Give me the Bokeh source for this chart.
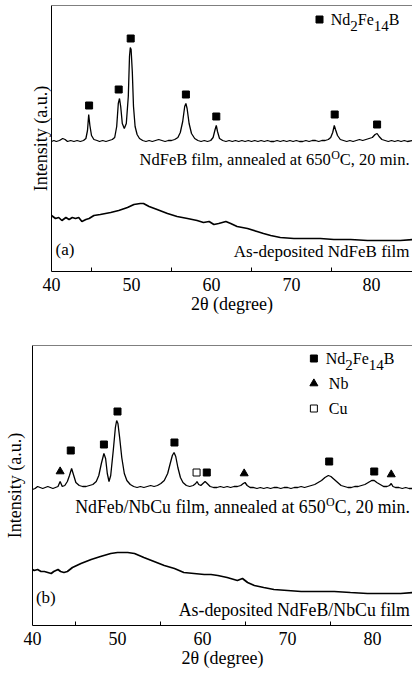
from bokeh.plotting import figure
from bokeh.models import FixedTicker, Label, Span, Range1d
from bokeh.layouts import column
from bokeh.embed import file_html
from bokeh.resources import INLINE

FONT = "Liberation Serif"

# ---------------- data ----------------
x_ticks = [40, 50, 60, 70, 80]
x_minor = [45, 55, 65, 75]
x_label = "2\u03b8 (degree)"
y_label = "Intensity (a.u.)"

# panel (a): annealed NdFeB film (2theta, intensity a.u.)
a_annealed = [
    (40.0, 130), (40.3, 131), (40.6, 130), (41.0, 131), (41.4, 133), (41.7, 132), (42.0, 130),
    (42.4, 131), (42.8, 130), (43.2, 131), (43.6, 130), (44.0, 131), (44.3, 133), (44.5, 141),
    (44.65, 157), (44.8, 146), (45.0, 136), (45.3, 132), (45.7, 131), (46.0, 130), (46.4, 131),
    (46.8, 130), (47.2, 131), (47.6, 132), (47.9, 134), (48.15, 145), (48.35, 168), (48.5, 173),
    (48.65, 165), (48.85, 148), (49.1, 143), (49.35, 148), (49.6, 175), (49.75, 215), (49.85, 224),
    (49.95, 222), (50.1, 200), (50.25, 165), (50.45, 145), (50.7, 137), (51.0, 133), (51.4, 131),
    (51.8, 130), (52.2, 131), (52.6, 130), (53.0, 131), (53.4, 132), (53.8, 131), (54.2, 130),
    (54.6, 131), (55.0, 131), (55.4, 132), (55.8, 134), (56.1, 139), (56.4, 150), (56.65, 165),
    (56.8, 168), (56.95, 163), (57.2, 148), (57.5, 138), (57.9, 133), (58.3, 131), (58.7, 130),
    (59.1, 131), (59.5, 130), (59.9, 131), (60.2, 134), (60.45, 142), (60.6, 146), (60.75, 140),
    (61.0, 133), (61.4, 131), (61.8, 130), (62.2, 131), (62.6, 130), (63.0, 131), (63.4, 130),
    (63.8, 131), (64.2, 130), (64.6, 131), (65.0, 130), (65.4, 131), (65.8, 130), (66.2, 131),
    (66.6, 130), (67.0, 131), (67.4, 130), (67.8, 130), (68.2, 131), (68.6, 130), (69.0, 131),
    (69.4, 130), (69.8, 131), (70.2, 130), (70.6, 131), (71.0, 130), (71.4, 130), (71.8, 131),
    (72.2, 130), (72.6, 131), (73.0, 131), (73.4, 130), (73.8, 131), (74.2, 131), (74.6, 132),
    (74.9, 134), (75.15, 139), (75.35, 146), (75.5, 142), (75.75, 136), (76.1, 132), (76.5, 131),
    (76.9, 130), (77.3, 131), (77.7, 130), (78.1, 131), (78.5, 132), (78.9, 131), (79.3, 132),
    (79.7, 133), (80.1, 134), (80.45, 137), (80.7, 138), (80.95, 135), (81.3, 132), (81.7, 131),
    (82.1, 130), (82.5, 131), (82.9, 130), (83.3, 131), (83.7, 130), (84.1, 131), (84.5, 130),
    (85.1, 131),
]
# panel (a): as-deposited NdFeB film
a_deposited = [
    (40.0, 56), (40.5, 53), (40.9, 54), (41.3, 51), (41.8, 54), (42.2, 52), (42.6, 54), (43.0, 53),
    (43.4, 54), (43.8, 50), (44.3, 52), (44.7, 53), (45.3, 56), (46.1, 57), (47.4, 59), (48.4, 61),
    (49.5, 64), (50.3, 67), (51.1, 68), (51.5, 68), (52.2, 65), (53.2, 62), (54.5, 58), (55.7, 55),
    (57.0, 53), (58.2, 51), (59.0, 49), (59.7, 50), (60.3, 47), (60.9, 48), (61.8, 50), (62.4, 48),
    (63.2, 45), (64.5, 43), (65.7, 40), (66.5, 38), (67.4, 36), (68.6, 34), (70.3, 33), (72.0, 33),
    (73.6, 33), (75.3, 32), (77.4, 32), (79.5, 31), (81.5, 31), (83.6, 31), (85.1, 32),
]
a_nd_x = [44.7, 48.4, 49.9, 56.8, 60.6, 75.4, 80.7]
a_nd_y = [166, 182, 233, 177, 155, 157, 147]

# panel (b): annealed NdFeB/NbCu film
b_annealed = [
    (40.0, 136), (40.3, 137), (40.6, 139), (40.9, 138), (41.2, 137), (41.5, 138), (41.8, 139),
    (42.1, 138), (42.4, 137), (42.7, 138), (43.0, 139), (43.25, 144), (43.5, 139), (43.8, 140),
    (44.1, 144), (44.35, 150), (44.6, 157), (44.85, 150), (45.1, 143), (45.5, 140), (45.9, 139),
    (46.3, 139), (46.7, 140), (47.1, 141), (47.5, 144), (47.8, 150), (48.1, 162), (48.4, 172),
    (48.6, 167), (48.8, 152), (49.0, 144), (49.2, 150), (49.5, 175), (49.75, 198), (49.9, 205),
    (50.05, 202), (50.25, 188), (50.5, 168), (50.8, 152), (51.1, 145), (51.5, 141), (51.9, 139),
    (52.3, 138), (52.7, 139), (53.1, 138), (53.5, 139), (53.9, 140), (54.3, 139), (54.7, 140),
    (55.1, 142), (55.5, 145), (55.9, 152), (56.2, 162), (56.45, 170), (56.65, 173), (56.85, 169),
    (57.1, 158), (57.4, 148), (57.7, 143), (58.1, 140), (58.5, 139), (58.9, 140), (59.2, 142),
    (59.35, 144), (59.55, 141), (59.8, 140), (60.05, 142), (60.3, 144), (60.55, 142), (60.9, 139),
    (61.3, 138), (61.7, 138), (62.1, 139), (62.5, 138), (62.9, 139), (63.3, 138), (63.7, 139),
    (64.1, 139), (64.5, 140), (64.8, 142), (65.0, 143), (65.25, 140), (65.6, 138), (66.0, 138),
    (66.4, 137), (66.8, 138), (67.2, 137), (67.6, 138), (68.0, 137), (68.4, 138), (68.8, 138),
    (69.2, 137), (69.6, 138), (70.0, 138), (70.4, 137), (70.8, 138), (71.2, 138), (71.6, 139),
    (72.0, 138), (72.4, 139), (72.8, 140), (73.2, 141), (73.6, 143), (74.0, 145), (74.4, 148),
    (74.8, 150), (75.1, 149), (75.5, 146), (75.9, 143), (76.3, 140), (76.7, 139), (77.1, 138),
    (77.5, 138), (77.9, 139), (78.3, 139), (78.7, 140), (79.1, 141), (79.5, 143), (79.9, 145),
    (80.2, 145), (80.5, 143), (80.9, 141), (81.3, 139), (81.7, 139), (82.0, 140), (82.2, 142),
    (82.4, 139), (82.7, 138), (83.1, 138), (83.5, 137), (83.9, 138), (84.3, 137), (84.7, 137),
]
# panel (b): as-deposited NdFeB/NbCu film
b_deposited = [
    (40.0, 56), (40.2, 55), (40.6, 56), (41.0, 54), (41.4, 54), (41.8, 53), (42.2, 52), (42.5, 54),
    (43.0, 56), (43.3, 54), (43.7, 53), (44.1, 54), (44.7, 58), (45.7, 62), (46.9, 66), (48.0, 69),
    (49.2, 72), (50.0, 73), (51.2, 73), (52.0, 72), (53.1, 68), (54.3, 64), (55.5, 60), (56.7, 57),
    (57.8, 53), (59.0, 52), (60.2, 51), (61.0, 51), (61.8, 50), (62.9, 48), (64.1, 45), (64.7, 47),
    (65.3, 43), (66.1, 40), (67.2, 38), (68.4, 36), (70.0, 35), (71.6, 34), (73.5, 34), (75.5, 34),
    (77.4, 33), (79.4, 32), (81.4, 32), (83.3, 32), (84.7, 33),
]
b_nd_x = [44.5, 48.4, 50.0, 56.7, 60.5, 74.9, 80.2]
b_nd_y = [175, 181, 214, 183, 153, 164, 154]
b_nb_x = [43.25, 64.9, 82.2]
b_nb_y = [154, 152, 151]
b_cu_x = [59.3]
b_cu_y = [153]

BLACK = "black"


def unzip(pairs):
    return [p[0] for p in pairs], [p[1] for p in pairs]


def make_fig(width, height, bl, bt, bb, xr, yr, ylab_standoff):
    p = figure(width=width, height=height, x_range=Range1d(*xr), y_range=Range1d(*yr),
               output_backend="svg", toolbar_location=None,
               min_border_left=bl, min_border_right=0, min_border_top=bt, min_border_bottom=bb)
    p.frame_align = False
    p.outline_line_color = None
    p.xgrid.grid_line_color = None
    p.ygrid.grid_line_color = None
    p.background_fill_color = "white"
    p.border_fill_color = "white"
    xa = p.xaxis[0]
    xa.ticker = FixedTicker(ticks=x_ticks, minor_ticks=x_minor)
    xa.major_tick_in = 0
    xa.major_tick_out = 0
    xa.minor_tick_in = 4
    xa.minor_tick_out = 0
    xa.minor_tick_line_color = BLACK
    xa.axis_line_color = BLACK
    xa.major_label_text_font = FONT
    xa.major_label_text_font_size = "18px"
    xa.major_label_text_color = BLACK
    xa.major_label_standoff = 6
    xa.axis_label = x_label
    xa.axis_label_text_font = FONT
    xa.axis_label_text_font_style = "normal"
    xa.axis_label_text_font_size = "18px"
    xa.axis_label_text_color = BLACK
    xa.axis_label_standoff = 0
    ya = p.yaxis[0]
    ya.ticker = FixedTicker(ticks=[], minor_ticks=[])
    ya.major_tick_in = 0
    ya.major_tick_out = 0
    ya.minor_tick_in = 0
    ya.minor_tick_out = 0
    ya.major_label_standoff = 0
    ya.axis_line_color = BLACK
    ya.axis_label = y_label
    ya.axis_label_text_font = FONT
    ya.axis_label_text_font_style = "normal"
    ya.axis_label_text_font_size = "18px"
    ya.axis_label_text_color = BLACK
    ya.axis_label_standoff = ylab_standoff
    p.add_layout(Span(location=yr[1], dimension="width", line_color=BLACK, line_width=1))
    return p


def txt(p, x, y, s, size, align="left", xo=0, yo=0):
    p.add_layout(Label(x=x, y=y, text=s, text_font=FONT, text_font_size=f"{size}px",
                       text_align=align, text_baseline="middle", x_offset=xo, y_offset=yo,
                       text_color=BLACK))


def anneal_label(p, x_right, y, head, size=17):
    # "<head>650" + superscript O + "C, 20 min." right-aligned at x_right
    w_tail = 4.223 * size
    sup_size = 12
    w_sup = 0.722 * sup_size
    txt(p, x_right, y, "C, 20 min.", size, "right")
    txt(p, x_right, y, "O", sup_size, "right", xo=-w_tail, yo=5)
    txt(p, x_right, y, head + "650", size, "right", xo=-(w_tail + w_sup + 0.5))


def phase_label(p, x, y, size=16, sub=15):
    pieces = [("Nd", size, 0), ("2", sub, -6), ("Fe", size, 0), ("14", sub, -6), ("B", size, 0)]
    em = {"Nd": 1.222, "2": 0.5, "Fe": 1.0, "14": 1.0, "B": 0.667}
    off = 0.0
    for s, fs, dy in pieces:
        txt(p, x, y, s, fs, "left", xo=off, yo=dy)
        off += em[s] * fs


# ---------------- panel (a) ----------------
pa = make_fig(412, 320, 51, 5, 49, (40, 85.125), (0, 266), 1)
ax, ay = unzip(a_annealed)
pa.line(ax, ay, line_color=BLACK, line_width=1.3)
dx, dy = unzip(a_deposited)
pa.line(dx, dy, line_color=BLACK, line_width=1.7)
pa.scatter(a_nd_x, a_nd_y, marker="square", size=7, fill_color=BLACK, line_color=BLACK)
pa.scatter([73.5], [252], marker="square", size=7, fill_color=BLACK, line_color=BLACK)
phase_label(pa, 74.9, 252)
anneal_label(pa, 84.75, 112, "NdFeB film, annealed at ", size=16.5)
txt(pa, 84.75, 20, "As-deposited NdFeB film", 17, "right")
txt(pa, 40.5, 22, "(a)", 17, "left")

# ---------------- panel (b) ----------------
pb = make_fig(412, 357, 32, 25, 52, (40, 84.7), (0, 280), 8)
bx, by = unzip(b_annealed)
pb.line(bx, by, line_color=BLACK, line_width=1.3)
ex, ey = unzip(b_deposited)
pb.line(ex, ey, line_color=BLACK, line_width=1.7)
pb.scatter(b_nd_x, b_nd_y, marker="square", size=7, fill_color=BLACK, line_color=BLACK)
pb.scatter(b_nb_x, b_nb_y, marker="triangle", size=8, fill_color=BLACK, line_color=BLACK)
pb.scatter(b_cu_x, b_cu_y, marker="square", size=7, fill_color="white", line_color=BLACK, line_width=1)
pb.scatter([73.1], [267], marker="square", size=7, fill_color=BLACK, line_color=BLACK)
pb.scatter([73.1], [242], marker="triangle", size=8, fill_color=BLACK, line_color=BLACK)
pb.scatter([73.1], [217], marker="square", size=7, fill_color="white", line_color=BLACK, line_width=1)
phase_label(pb, 74.5, 267)
txt(pb, 74.86, 242, "Nb", 16, "left")
txt(pb, 74.86, 217, "Cu", 16, "left")
anneal_label(pb, 84.39, 119, "NdFeb/NbCu film, annealed at ", size=17.8)
txt(pb, 84.39, 16, "As-deposited NdFeB/NbCu film", 17.8, "right")
txt(pb, 40.4, 28, "(b)", 17, "left")

layout = column(pa, pb, spacing=0)
open("out.html", "w").write(file_html(layout, INLINE))
